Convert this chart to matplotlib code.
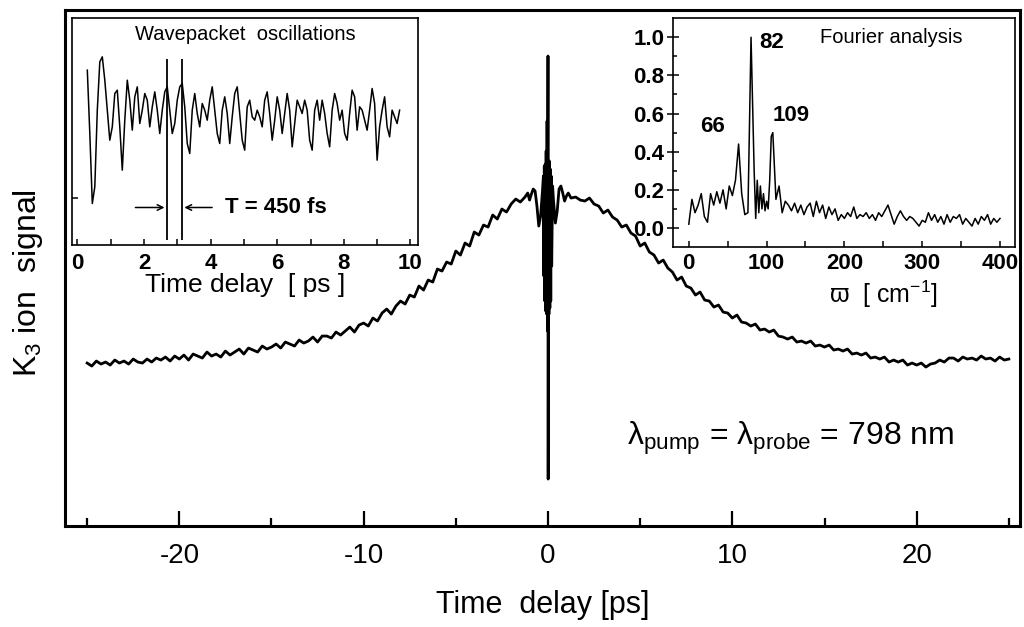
import numpy as np
import matplotlib
matplotlib.use("Agg")
import matplotlib.pyplot as plt

# ---------------- DATA ---------------- #
# main trace: K3 ion signal vs time delay, arbitrary units (0 = bottom axis)
t_left_start, t_step = -25.0, 0.25
sig_left = [163, 160, 165, 162, 164, 161, 166, 163, 165, 162, 167, 164,
            163, 167, 164, 168, 166, 169, 165, 170, 167, 171, 166, 172,
            170, 168, 174, 170, 172, 169, 175, 171, 174, 177, 172, 178,
            176, 174, 180, 177, 179, 182, 178, 184, 182, 180, 186, 183,
            185, 189, 184, 190, 190, 188, 194, 191, 195, 199, 194, 201,
            203, 200, 208, 205, 213, 217, 212, 220, 225, 222, 231, 229,
            240, 236, 246, 244, 257, 255, 264, 262, 275, 271, 283, 280,
            294, 291, 301, 299, 311, 307, 317, 314, 322, 327, 324]

t_center = [-1.25, -1.1, -1.0, -0.9, -0.8, -0.7, -0.6, -0.5, -0.4, -0.3,
            -0.25, -0.225, -0.2, -0.175, -0.15, -0.125, -0.1, -0.075, -0.05,
            -0.025, 0.0, 0.01, 0.025, 0.05, 0.075, 0.1, 0.125, 0.15, 0.175,
            0.2, 0.25, 0.3, 0.4, 0.5, 0.6, 0.7, 0.8, 0.9, 1.0, 1.1, 1.25]
sig_center = [329, 333, 326, 332, 337, 335, 320, 300, 310, 335,
              350, 250, 360, 225, 362, 215, 375, 212, 405,
              195, 470, 47, 360, 212, 365, 218, 357, 225, 350,
              260, 340, 325, 303, 315, 337, 340, 333, 325, 330, 333, 328]

t_right_start = 1.5
sig_right = [329, 326,
             325, 328, 322, 320, 313, 316, 309, 306, 299, 301, 293, 290,
             280, 283, 274, 271, 263, 266, 258, 254, 246, 249, 240, 238,
             231, 234, 226, 225, 219, 221, 214, 213, 208, 211, 204, 203,
             200, 202, 196, 197, 194, 196, 190, 189, 187, 189, 184, 185,
             183, 185, 180, 181, 179, 181, 176, 177, 175, 177, 172, 173,
             171, 173, 168, 169, 167, 169, 164, 166, 164, 166, 161, 163,
             161, 163, 159, 162, 163, 166, 164, 168, 168, 165, 169, 167,
             168, 166, 170, 167, 168, 165, 169, 166, 167]

# inset 1: wavepacket oscillations (sampled every 0.075 ps from 0.3 ps)
wp_start, wp_step = 0.3, 0.075
wp_signal = [53, 34, 13, 18, 41, 55.5, 57, 50, 41, 32, 36, 46, 47, 36, 23, 38,
             50, 44, 35, 45, 48, 37, 41, 46, 44, 36, 42, 46.5, 41, 34, 41, 46.5,
             48, 41, 34, 37, 44, 48, 49, 42, 31, 28, 41, 46, 40, 36, 43, 41,
             38, 44, 48, 41, 34, 31, 41, 45, 40, 31, 39, 46, 48, 40, 32, 29,
             42, 44, 39, 38, 41, 39, 36, 44, 46.5, 40, 32, 38, 45, 41, 34, 40,
             46, 41, 30, 37, 44, 42, 40, 44, 41, 32, 29, 41, 44, 38, 44, 40,
             34, 30, 41, 46, 43, 38, 41, 34, 32, 40, 47, 45, 35, 42, 41, 38,
             35, 41, 47.5, 43, 26, 36, 41, 45, 36, 33, 41, 39, 37, 41]
period_marks = [2.70, 3.13]

# inset 2: Fourier analysis
w_cm = [0, 4, 8, 12, 16, 20, 24, 28, 32, 36, 40, 44, 48, 52, 56, 60, 64, 68,
        72, 76, 80, 84, 86, 88, 90, 92, 94, 96, 98, 100, 102, 104, 106, 108,
        112, 116, 120, 124, 128, 132, 136, 140, 144, 148, 152, 156, 160, 164,
        168, 172, 176, 180, 184, 188, 192, 196, 200, 204, 208, 212, 216, 220,
        224, 228, 232, 236, 240, 244, 248, 252, 256, 260, 264, 268, 272, 276,
        280, 284, 288, 292, 296, 300, 304, 308, 312, 316, 320, 324, 328, 332,
        336, 340, 344, 348, 352, 356, 360, 364, 368, 372, 376, 380, 384, 388,
        392, 396, 400]
ft_amp = [0.02, 0.15, 0.08, 0.12, 0.18, 0.06, 0.03, 0.18, 0.12, 0.19, 0.13,
          0.20, 0.10, 0.22, 0.17, 0.25, 0.44, 0.18, 0.07, 0.08, 1.00, 0.30,
          0.05, 0.25, 0.08, 0.22, 0.10, 0.18, 0.09, 0.14, 0.10, 0.25, 0.48,
          0.50, 0.15, 0.22, 0.08, 0.14, 0.12, 0.09, 0.13, 0.08, 0.12, 0.07,
          0.11, 0.13, 0.06, 0.14, 0.08, 0.12, 0.05, 0.11, 0.07, 0.10, 0.04,
          0.07, 0.05, 0.08, 0.06, 0.11, 0.05, 0.07, 0.06, 0.08, 0.05, 0.07,
          0.04, 0.08, 0.06, 0.09, 0.12, 0.07, 0.02, 0.06, 0.09, 0.06, 0.04,
          0.06, 0.05, 0.03, 0.01, 0.04, 0.03, 0.08, 0.04, 0.07, 0.03, 0.06,
          0.02, 0.07, 0.03, 0.06, 0.05, 0.07, 0.02, 0.05, 0.03, 0.01, 0.05,
          0.02, 0.06, 0.04, 0.07, 0.02, 0.05, 0.03, 0.05]
peak_labels = ["66", "82", "109"]
peak_label_pos = [(31, 0.53), (107, 0.97), (132, 0.59)]

# ---------------- STYLE ---------------- #
plt.rcParams['font.family'] = ['Liberation Sans', 'DejaVu Sans']
plt.rcParams['mathtext.fontset'] = 'custom'
plt.rcParams['mathtext.rm'] = 'Liberation Sans'
plt.rcParams['mathtext.it'] = 'Liberation Sans:italic'
plt.rcParams['mathtext.bf'] = 'Liberation Sans:bold'
plt.rcParams['axes.unicode_minus'] = False

fig = plt.figure(figsize=(10.24, 6.27), dpi=100)

# ---------------- MAIN PLOT ---------------- #
ax = fig.add_axes([0.0635, 0.161, 0.9325, 0.823])
t_left = t_left_start + t_step * np.arange(len(sig_left))
t_right = t_right_start + t_step * np.arange(len(sig_right))
t_all = np.concatenate([t_left, t_center, t_right])
s_all = np.concatenate([sig_left, sig_center, sig_right])
ax.plot(t_all, s_all, color='black', lw=2.0)

ax.set_xlim(-26.2, 25.6)
ax.set_ylim(0, 516)
ax.set_yticks([])
ax.set_xticks([-20, -10, 0, 10, 20])
ax.set_xticks([-25, -15, -5, 5, 15, 25], minor=True)
ax.tick_params(axis='x', which='major', direction='in', length=11, width=1.6,
               pad=12, labelsize=20)
ax.tick_params(axis='x', which='minor', direction='in', length=6, width=1.6)
for sp in ax.spines.values():
    sp.set_linewidth(2.2)
ax.set_xlabel("Time  delay [ps]", fontsize=22, labelpad=15)
fig.text(0.027, 1 - 283 / 627, "K$_3$ ion  signal", rotation=90, fontsize=23,
         ha='center', va='center')
ax.text(4.3, 88, r"λ$_{\mathrm{pump}}$ = λ$_{\mathrm{probe}}$ = 798 nm",
        fontsize=23, ha='left', va='center')

# ---------------- INSET 1: WAVEPACKET ---------------- #
ax1 = fig.add_axes([0.0703, 0.609, 0.338, 0.362])
t_wp = wp_start + wp_step * np.arange(len(wp_signal))
ax1.plot(t_wp, wp_signal, color='black', lw=1.1)
ax1.vlines(period_marks, 2, 56.5, color='black', lw=1.3)
ax1.annotate("", xy=(period_marks[0], 11.8), xytext=(1.66, 11.8),
             arrowprops=dict(arrowstyle='->', lw=1.1, color='black'))
ax1.annotate("", xy=(period_marks[1], 11.8), xytext=(4.13, 11.8),
             arrowprops=dict(arrowstyle='->', lw=1.1, color='black'))
ax1.text(4.43, 11.8, "T = 450 fs", fontsize=16, fontweight='bold',
         ha='left', va='center')
ax1.text(0.5, 0.93, "Wavepacket  oscillations", transform=ax1.transAxes,
         fontsize=14.5, ha='center', va='center')
ax1.set_xlim(-0.16, 10.23)
ax1.set_ylim(0.5, 68.6)
ax1.set_yticks([14.5])
ax1.set_yticklabels([])
ax1.set_xticks([0, 2, 4, 6, 8, 10])
ax1.set_xticks([1, 3, 5, 7, 9], minor=True)
ax1.tick_params(axis='both', which='both', direction='in', length=4, width=1.1)
ax1.tick_params(axis='x', which='major', pad=6, labelsize=16)
for lab in ax1.get_xticklabels():
    lab.set_fontweight('bold')
for sp in ax1.spines.values():
    sp.set_linewidth(1.2)
ax1.set_xlabel("Time delay  [ ps ]", fontsize=19, labelpad=-1)

# ---------------- INSET 2: FOURIER ---------------- #
ax2 = fig.add_axes([0.657, 0.606, 0.334, 0.365])
ax2.plot(w_cm, ft_amp, color='black', lw=1.1)
for lab, (px, py) in zip(peak_labels, peak_label_pos):
    ax2.text(px, py, lab, fontsize=16, fontweight='bold', ha='center', va='center')
ax2.text(260, 1.0, "Fourier analysis", fontsize=14.5, ha='center', va='center')
ax2.set_xlim(-20.6, 419)
ax2.set_ylim(-0.1, 1.1)
ax2.set_xticks([0, 100, 200, 300, 400])
ax2.set_xticks([50, 150, 250, 350], minor=True)
ax2.set_yticks([0.0, 0.2, 0.4, 0.6, 0.8, 1.0])
ax2.set_yticks([0.1, 0.3, 0.5, 0.7, 0.9], minor=True)
ax2.yaxis.set_major_formatter(matplotlib.ticker.FormatStrFormatter('%.1f'))
ax2.tick_params(axis='x', which='both', direction='in', length=4, width=1.1,
                pad=4, labelsize=16)
ax2.tick_params(axis='y', which='major', direction='inout', length=8, width=1.1,
                pad=2, labelsize=16)
ax2.tick_params(axis='y', which='minor', direction='in', length=3, width=1.1)
for lab in ax2.get_xticklabels() + ax2.get_yticklabels():
    lab.set_fontweight('bold')
for sp in ax2.spines.values():
    sp.set_linewidth(1.2)
ax2.text(250, -0.35, "ϖ  [ cm$^{-1}$]", fontsize=18, ha='center', va='center')

fig.savefig("out.png", dpi=100)
